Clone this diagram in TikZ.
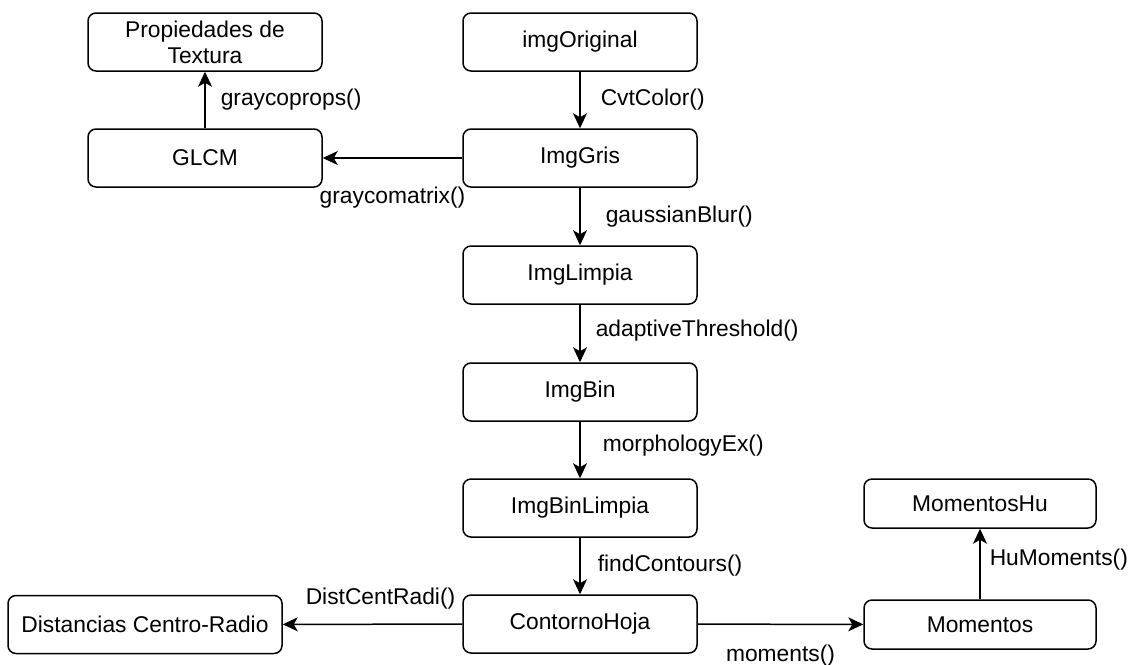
\documentclass[tikz,border=0pt]{standalone}
\usepackage{fontspec}
\setmainfont{Liberation Sans}
\usetikzlibrary{arrows.meta}

\begin{document}
\begin{tikzpicture}[x=1pt,y=1pt,yscale=-1,xscale=1,
	caja/.style={draw, line width=1.5pt, rounded corners=8pt, minimum width=234pt, minimum height=58pt, inner sep=0pt, align=center, font=\fontsize{22.8}{26}\selectfont},
	flecha/.style={line width=1.5pt, -{Stealth[length=15pt,width=14pt,inset=4pt]}},
	etiq/.style={inner sep=0pt, font=\fontsize{22.8}{26}\selectfont}]

	\useasboundingbox (0,0) rectangle (1131,664);

	\node [caja] (propTextura) at (205,42) {Propiedades de\\Textura};
	\node [caja] (imgOriginal) at (580,42) {imgOriginal};
	\node [caja] (glcm) at (205,158) {GLCM};
	\node [caja] (imgGris) at (580,158) {ImgGris};
	\node [caja] (imgLimpia) at (580,275) {ImgLimpia};
	\node [caja] (imgBin) at (580,392) {ImgBin};
	\node [caja] (imgBinLimpia) at (580,508) {ImgBinLimpia};
	\node [caja] (contornoHoja) at (580,624) {ContornoHoja};
	\node [caja, minimum width=274pt] (distancias) at (145,624.5) {Distancias Centro-Radio};
	\node [caja, minimum width=232pt, minimum height=49pt] (momentos) at (980,624.5) {Momentos};
	\node [caja, minimum width=232pt, minimum height=49pt] (momentosHu) at (980,503.5) {MomentosHu};

	\draw [flecha] (imgOriginal) -- node [etiq, anchor=west, xshift=20pt] {CvtColor()} (imgGris);
	\draw [flecha] (glcm) -- node [etiq, anchor=west, xshift=15pt] {graycoprops()} (propTextura);
	\draw [flecha] (imgGris) -- node [etiq, yshift=-40pt] {graycomatrix()} (glcm);
	\draw [flecha] (imgGris) -- node [etiq, anchor=west, xshift=25pt] {gaussianBlur()} (imgLimpia);
	\draw [flecha] (imgLimpia) -- node [etiq, anchor=west, xshift=15pt, yshift=3pt] {adaptiveThreshold()} (imgBin);
	\draw [flecha] (imgBin) -- node [etiq, anchor=west, xshift=22pt, yshift=4pt] {morphologyEx()} (imgBinLimpia);
	\draw [flecha] (imgBinLimpia) -- node [etiq, anchor=west, xshift=17pt] {findContours()} (contornoHoja);
	\draw [flecha] (contornoHoja) -- node [etiq, xshift=8pt, yshift=26pt] {DistCentRadi()} (distancias);
	\draw [flecha] (contornoHoja) -- node [etiq, yshift=-31pt] {moments()} (momentos);
	\draw [flecha] (momentos) -- node [etiq, anchor=west, xshift=9pt, yshift=4pt] {HuMoments()} (momentosHu);
\end{tikzpicture}
\end{document}
